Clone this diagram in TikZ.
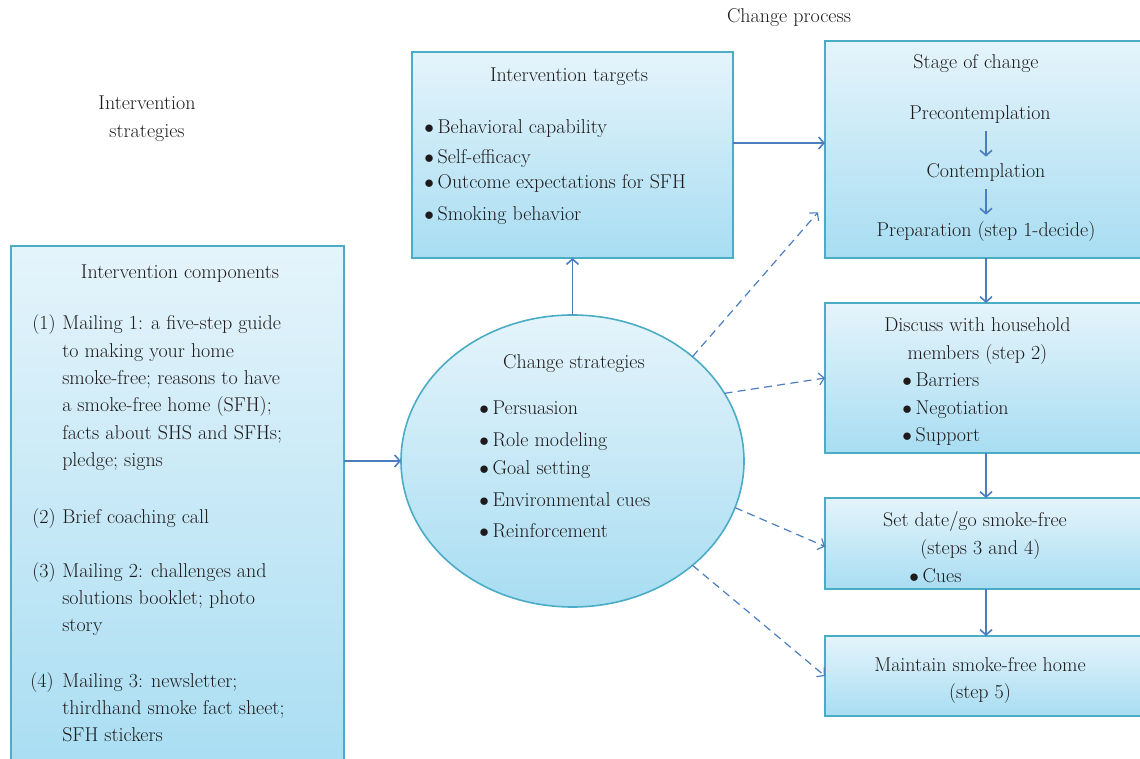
\documentclass[tikz,border=0pt]{standalone}
\usepackage{fontspec}
\usepackage{array}
\usetikzlibrary{arrows.meta,shapes.geometric,calc}

\definecolor{boxline}{HTML}{4BACC6}
\definecolor{boxtop}{HTML}{E5F4FB}
\definecolor{boxbottom}{HTML}{A8DDF2}
\definecolor{flowblue}{HTML}{4A7EC0}
\definecolor{ink}{HTML}{1E1A1B}

\newcommand{\bitem}[1]{\makebox[10pt][l]{$\bullet$}#1}

\tikzset{
	box/.style={rectangle, draw=boxline, line width=1.5pt, top color=boxtop, bottom color=boxbottom, inner sep=0pt, outer sep=0pt},
	oval/.style={ellipse, draw=boxline, line width=1.2pt, top color=boxtop, bottom color=boxbottom, inner sep=0pt, outer sep=0pt},
	txt/.style={text=ink, inner sep=0pt, font=\fontsize{15}{20.5}\selectfont},
	flow/.style={draw=flowblue, line width=1.2pt, -{Straight Barb[length=4pt,width=9pt]}},
	hint/.style={flow, line width=0.9pt, dash pattern=on 6pt off 4pt}
}

\begin{document}
\begin{tikzpicture}[x=0.75pt, y=-0.75pt]
	\useasboundingbox (0,0) rectangle (1140,759);

	% boxes and the oval
	\node[box, minimum width=249.75pt, minimum height=400.5pt] (comps) at (177.5,513) {};
	\node[box, minimum width=240.75pt, minimum height=154.5pt] (targets) at (572.5,155) {};
	\node[box, minimum width=241.5pt, minimum height=163.1pt] (stage) at (986,149.25) {};
	\node[box, minimum width=241.5pt, minimum height=112.5pt] (discuss) at (986,378) {};
	\node[box, minimum width=241.5pt, minimum height=68.25pt] (setdate) at (986,543.5) {};
	\node[box, minimum width=241.5pt, minimum height=60pt] (maintain) at (986,676) {};
	\node[oval, minimum width=257.25pt, minimum height=219pt] (strat) at (572.5,461) {};

	% headings outside the boxes
	\node[txt, anchor=base] (ivlabel) at (147,110) {\begin{tabular}[t]{@{}c@{}}Intervention\\strategies\end{tabular}};
	\node[txt, anchor=base] (cplabel) at (789,22.7) {Change process};

	% intervention components
	\node[txt, anchor=base] (compshead) at (180,279) {Intervention components};
	\node[txt, anchor=base west] (item1) at (32,330) {\begin{tabular}[t]{@{}p{22.5pt}@{}l@{}}
		(1) & Mailing 1: a five-step guide\\
		& to making your home\\
		& smoke-free; reasons to have\\
		& a smoke-free home (SFH);\\
		& facts about SHS and SFHs;\\
		& pledge; signs
	\end{tabular}};
	\node[txt, anchor=base west] (item2) at (32,523) {\begin{tabular}[t]{@{}p{22.5pt}@{}l@{}}
		(2) & Brief coaching call
	\end{tabular}};
	\node[txt, anchor=base west] (item3) at (32,577) {\begin{tabular}[t]{@{}p{22.5pt}@{}l@{}}
		(3) & Mailing 2: challenges and\\
		& solutions booklet; photo\\
		& story
	\end{tabular}};
	\node[txt, anchor=base west] (item4) at (30,687) {\begin{tabular}[t]{@{}p{24pt}@{}l@{}}
		(4) & Mailing 3: newsletter;\\
		& thirdhand smoke fact sheet;\\
		& SFH stickers
	\end{tabular}};

	% intervention targets
	\node[txt, anchor=base] (targetshead) at (569,82) {Intervention targets};
	\node[txt, anchor=base west] (targetlist) at (424,134) {\begin{tabular}[t]{@{}l@{}}
		\bitem{Behavioral capability}\\[1.3pt]
		\bitem{Self-efficacy}\\[-1.7pt]
		\bitem{Outcome expectations for SFH}\\[3.5pt]
		\bitem{Smoking behavior}
	\end{tabular}};

	% change strategies
	\node[txt, anchor=base] (strathead) at (574,369) {Change strategies};
	\node[txt, anchor=base west] (stratlist) at (479,415) {\begin{tabular}[t]{@{}l@{}}
		\bitem{Persuasion}\\[3.5pt]
		\bitem{Role modeling}\\[0.5pt]
		\bitem{Goal setting}\\[2.8pt]
		\bitem{Environmental cues}\\[2.8pt]
		\bitem{Reinforcement}
	\end{tabular}};

	% stage of change
	\node[txt, anchor=base] (stagehead) at (976,69) {Stage of change};
	\node[txt, anchor=base] (pre) at (980,120) {Precontemplation};
	\node[txt, anchor=base] (con) at (986,178) {Contemplation};
	\node[txt, anchor=base] (prep) at (986,237) {Preparation (step 1-decide)};

	% later steps
	\node[txt, anchor=base] (discusshead) at (977.5,332) {\begin{tabular}[t]{@{}c@{}}Discuss with household\\members (step 2)\end{tabular}};
	\node[txt, anchor=base west] (discusslist) at (902,387) {\begin{tabular}[t]{@{}l@{}}
		\bitem{Barriers}\\
		\bitem{Negotiation}\\
		\bitem{Support}
	\end{tabular}};
	\node[txt, anchor=base] (setdatehead) at (975,527) {\begin{tabular}[t]{@{}c@{}}Set date/go smoke-free\\\hspace{8pt}(steps 3 and 4)\end{tabular}};
	\node[txt, anchor=base west] (cues) at (909,582) {\bitem{Cues}};
	\node[txt, anchor=base] (maintainhead) at (980,671) {\begin{tabular}[t]{@{}c@{}}Maintain smoke-free home\\(step 5)\end{tabular}};

	% connectors
	\coordinate (tgtout) at ([yshift=9pt]targets.east);
	\draw[flow] (comps.east |- strat.west) -- (strat.west);
	\draw[flow] (strat.north) -- (strat.north |- targets.south);
	\draw[flow] (tgtout) -- (tgtout -| stage.west);
	\draw[flow, shorten <=5.3pt, shorten >=5.3pt] (pre.south -| con) -- (con.north);
	\draw[flow, shorten <=5.3pt, shorten >=5.3pt] (con.south) -- (con.south |- prep.north);
	\draw[flow] (stage.south) -- (discuss.north);
	\draw[flow] (discuss.south) -- (setdate.north);
	\draw[flow] (setdate.south) -- (maintain.north);

	\draw[hint] (strat.41) -- ($(stage.west)+(-7,63)$);
	\draw[hint] (strat.24) -- (discuss.west);
	\draw[hint] (strat.-16) -- ($(setdate.west)+(0,3)$);
	\draw[hint] (strat.-41) -- (maintain.west);
\end{tikzpicture}
\end{document}
